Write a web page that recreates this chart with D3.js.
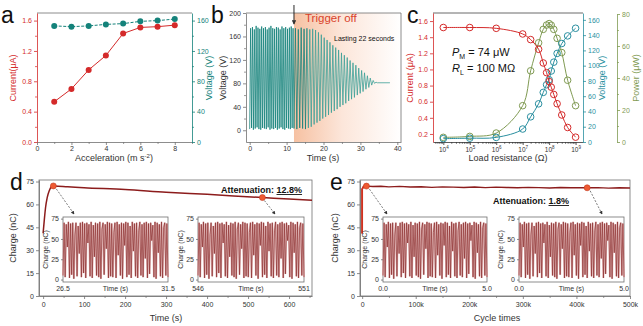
<!DOCTYPE html>
<html>
<head>
<meta charset="utf-8">
<script src="https://cdn.jsdelivr.net/npm/d3@7"></script>
<style>
  body { margin: 0; background: #fff; }
  svg { display: block; }
</style>
</head>
<body>
<script>
// ---- data ----
// (a) output vs. acceleration
const accel = [1, 2, 3, 4, 5, 6, 7, 8];
const accCurrent = [0.53, 0.70, 0.95, 1.14, 1.43, 1.51, 1.52, 1.54];
const accVoltage = [153, 152, 153, 155, 156, 159, 160, 162];

// (b) voltage after trigger off: per-cycle peaks and troughs
const bHighsOn = [174, 176, 172, 178, 175, 173, 177, 174, 176, 172, 175, 178, 174, 173, 176, 175, 172, 177, 174, 176, 173, 175, 177, 174];
const bLowsOn = [2, 4, 1, 3, 5, 2, 1, 4, 3, 2, 5, 1, 3, 2, 4, 1, 3, 5, 2, 1, 4, 3, 2, 4];
const bHighsOff = [174, 172, 175, 173, 174, 172, 173, 171, 167, 163, 158, 154, 150, 145, 141, 137, 132, 128, 124, 119, 115, 111, 106, 102, 98, 93, 89, 85, 82];
const bLowsOff = [3, 2, 4, 3, 2, 4, 6, 10, 13, 16, 20, 23, 26, 30, 33, 36, 40, 43, 46, 50, 53, 56, 60, 63, 66, 70, 73, 77, 80];
const bRest = 81;

// (c) load resistance sweep
const loadR = [1e4, 1e5, 1e6, 1e7, 2e7, 4e7, 6e7, 8e7, 1e8, 1.2e8, 1.5e8, 2e8, 3e8, 5e8, 1e9];
const loadCurrent = [1.52, 1.52, 1.51, 1.44, 1.37, 1.25, 1.08, 0.96, 0.85, 0.78, 0.69, 0.575, 0.435, 0.28, 0.16];
const loadVoltage = [4.4, 5, 6, 17, 33, 50, 65, 75, 81.5, 93, 104.6, 116, 129, 139, 149];
const loadPower = [2.9, 3.5, 5.6, 22.7, 44.5, 62, 70.4, 73.1, 74, 73, 70.4, 64.8, 55.9, 38.6, 22.7];

// (d) charge over time
const dTime = [0, 3, 6, 10, 15, 20, 25, 60, 100, 200, 300, 400, 535, 600, 656];
const dCharge = [41, 50, 58, 64.5, 69, 71.5, 72.1, 71.6, 71, 69.8, 68, 66.6, 64.5, 63.6, 62.7];
const dMarks = [[25, 72.1], [535, 64.5]];

// (e) charge over cycles
const eCycles = [0, 0, 3000, 8000, 20000, 35000, 50000, 70000, 90000, 110000, 130000, 150000, 170000, 190000, 210000, 230000, 250000, 270000, 290000, 310000, 330000, 350000, 370000, 390000, 420000, 440000, 460000, 480000, 500000];
const eCharge = [41, 70, 72, 72, 71.7, 71.9, 71.5, 71.8, 71.4, 71.6, 71.2, 71.5, 71.3, 71.1, 71.4, 71.0, 71.3, 71.1, 70.9, 71.2, 71.0, 70.8, 71.1, 70.9, 70.9, 71.0, 70.7, 70.9, 70.8];
const eMarks = [[8000, 72], [420000, 70.9]];

// shared inset trace (charge within a 5 s window)
const insetWave = [5, 70, 3, 68, 40, 71, 2, 69, 6, 70, 1, 55, 70, 4, 66, 32, 70, 3, 71, 8, 69, 2, 70, 45, 68, 4, 71, 2, 67, 28, 70, 5, 69, 3, 71, 1, 62, 70, 6, 68, 38, 71, 2, 70, 4, 69, 3, 58, 70, 2, 71, 30, 68, 5, 70, 1, 69, 42, 71, 3, 70, 6, 66, 2, 71, 35, 69, 4, 70, 2, 60, 71, 5, 68, 3, 70, 26, 71, 2, 69, 7, 70, 48, 67, 3, 71, 1, 70, 33, 68, 4, 71, 2, 64, 70, 5, 69, 3];

// ---- styling ----
const FONT = "Liberation Sans, Arial, sans-serif";
const RED = "#d42a2a";
const TEAL = "#14827a";
const TEAL_LIGHT = "#3c9f97";
const CTEAL = "#2a8fa0";
const OLIVE = "#7f9a52";
const GREY = "#707070";
const TXT = "#333";

const svg = d3.select("body").append("svg")
    .attr("width", 643)
    .attr("height", 326);

const defs = svg.append("defs");
defs.append("marker")
    .attr("id", "arr")
    .attr("viewBox", "0 0 6 6")
    .attr("refX", 5).attr("refY", 3)
    .attr("markerWidth", 5).attr("markerHeight", 5)
    .attr("orient", "auto")
  .append("path")
    .attr("d", "M0,0L6,3L0,6Z")
    .attr("fill", "#333");

const grad = defs.append("linearGradient").attr("id", "fade");
grad.append("stop").attr("offset", 0).attr("stop-color", "#f6c1a2");
grad.append("stop").attr("offset", 0.45).attr("stop-color", "#fce6da");
grad.append("stop").attr("offset", 1).attr("stop-color", "#ffffff");

// helper: draw an axis and colour it
function axis(gen, tx, ty, color, textColor, size) {
    const g = svg.append("g")
        .attr("transform", `translate(${tx},${ty})`)
        .call(gen);
    g.selectAll("path, line").attr("stroke", color).attr("stroke-width", 0.8);
    g.selectAll("text")
        .attr("fill", textColor)
        .attr("font-size", size || 7)
        .attr("font-family", FONT);
    return g;
}

function minor(gen, tx, ty, color) {
    const g = svg.append("g")
        .attr("transform", `translate(${tx},${ty})`)
        .call(gen.tickFormat("").tickSizeOuter(0));
    g.select(".domain").remove();
    g.selectAll("line").attr("stroke", color).attr("stroke-width", 0.7);
    return g;
}

function label(x, y, str, opts) {
    opts = opts || {};
    const t = svg.append("text")
        .attr("x", x).attr("y", y)
        .attr("font-family", FONT)
        .attr("font-size", opts.size || 9)
        .attr("fill", opts.color || TXT)
        .attr("text-anchor", opts.anchor || "middle")
        .text(str);
    if (opts.rotate) t.attr("transform", `rotate(-90,${x},${y})`);
    if (opts.weight) t.attr("font-weight", opts.weight);
    return t;
}

function hline(x0, x1, y, color) {
    svg.append("line")
        .attr("x1", x0).attr("x2", x1).attr("y1", y).attr("y2", y)
        .attr("stroke", color).attr("stroke-width", 0.8);
}

function dashedArrow(x1, y1, x2, y2) {
    svg.append("line")
        .attr("x1", x1).attr("y1", y1).attr("x2", x2).attr("y2", y2)
        .attr("stroke", "#444")
        .attr("stroke-width", 0.7)
        .attr("stroke-dasharray", "2,1.5")
        .attr("marker-end", "url(#arr)");
}

// panel letters
[["a", 1, 23], ["b", 211, 23], ["c", 407, 23], ["d", 10, 190], ["e", 330, 190]].forEach(d => {
    label(d[1], d[2], d[0], { size: 23, anchor: "start", color: "#111" });
});

// ===================== (a) =====================
{
    const x = d3.scaleLinear().domain([0, 9]).range([37, 192]);
    const yI = d3.scaleLinear().domain([0, 1.7]).range([142, 13]);
    const yV = d3.scaleLinear().domain([0, 170]).range([142, 13]);

    hline(37, 192, 13, GREY);
    axis(d3.axisBottom(x).tickValues([0, 2, 4, 6, 8]).tickSize(3).tickSizeOuter(0).tickPadding(1.5), 0, 142, GREY, TXT);
    minor(d3.axisBottom(x).tickValues([1, 3, 5, 7, 9]).tickSize(2), 0, 142, GREY);
    axis(d3.axisLeft(yI).tickValues([0, 0.4, 0.8, 1.2, 1.6]).tickFormat(d3.format(".1f")).tickSize(3).tickSizeOuter(0).tickPadding(2), 37, 0, RED, RED);
    minor(d3.axisLeft(yI).tickValues([0.2, 0.6, 1.0, 1.4]).tickSize(2), 37, 0, RED);
    axis(d3.axisRight(yV).tickValues([0, 40, 80, 120, 160]).tickSize(3).tickSizeOuter(0).tickPadding(2), 192, 0, TEAL, TEAL);
    minor(d3.axisRight(yV).tickValues([20, 60, 100, 140]).tickSize(2), 192, 0, TEAL);

    const iLine = d3.line().x((d, i) => x(accel[i])).y(d => yI(d));
    const vLine = d3.line().x((d, i) => x(accel[i])).y(d => yV(d));

    svg.append("path").attr("d", iLine(accCurrent))
        .attr("fill", "none").attr("stroke", RED).attr("stroke-width", 1);
    svg.append("path").attr("d", vLine(accVoltage))
        .attr("fill", "none").attr("stroke", TEAL).attr("stroke-width", 1)
        .attr("stroke-dasharray", "3,1.5");

    svg.append("g").selectAll("circle").data(accCurrent).join("circle")
        .attr("cx", (d, i) => x(accel[i])).attr("cy", d => yI(d))
        .attr("r", 3).attr("fill", RED);
    svg.append("g").selectAll("circle").data(accVoltage).join("circle")
        .attr("cx", (d, i) => x(accel[i])).attr("cy", d => yV(d))
        .attr("r", 3).attr("fill", TEAL);

    label(16, 78, "Current(μA)", { rotate: true, color: RED });
    label(212, 78, "Voltage (V)", { rotate: true, color: TEAL });
    const t = label(114, 161, "Acceleration (m s");
    t.append("tspan").attr("dy", -3.5).attr("font-size", 6).text("-2");
    t.append("tspan").attr("dy", 3.5).text(")");
}

// ===================== (b) =====================
{
    const x = d3.scaleLinear().domain([-1, 41]).range([246, 401]);
    const y = d3.scaleLinear().domain([-20, 200]).range([142, 13]);

    // shaded region after the trigger is released
    svg.append("rect")
        .attr("x", x(12)).attr("y", 13)
        .attr("width", 401 - x(12)).attr("height", 129)
        .attr("fill", "url(#fade)");

    // build the zigzag: dense cycles while triggered, slower decaying cycles after
    const ptsOn = [];
    const onPeriod = 12 / bHighsOn.length;
    bHighsOn.forEach((h, i) => {
        ptsOn.push([i * onPeriod, bLowsOn[i]]);
        ptsOn.push([i * onPeriod + onPeriod / 2, h]);
    });
    const ptsOff = [];
    const offPeriod = 0.78;
    bHighsOff.forEach((h, i) => {
        ptsOff.push([12 + i * offPeriod, bLowsOff[i]]);
        ptsOff.push([12 + i * offPeriod + offPeriod / 2, h]);
    });
    const tEnd = 12 + bHighsOff.length * offPeriod;
    ptsOff.push([tEnd, bRest]);
    ptsOff.push([38, bRest]);

    // free ringing drawn first in a lighter tone, driven part on top
    const wave = d3.line().x(d => x(d[0])).y(d => y(d[1]));
    const split = 10;
    svg.append("path")
        .attr("d", wave(ptsOff.slice(split - 1)))
        .attr("fill", "none")
        .attr("stroke", TEAL_LIGHT)
        .attr("stroke-width", 0.8);
    svg.append("path")
        .attr("d", wave(ptsOn.concat(ptsOff.slice(0, split))))
        .attr("fill", "none")
        .attr("stroke", TEAL)
        .attr("stroke-width", 0.8);

    hline(246, 401, 13, GREY);
    svg.append("line").attr("x1", 401).attr("x2", 401).attr("y1", 13).attr("y2", 142)
        .attr("stroke", GREY).attr("stroke-width", 0.8);
    axis(d3.axisBottom(x).tickValues([0, 10, 20, 30, 40]).tickSize(3).tickSizeOuter(0).tickPadding(1.5), 0, 142, GREY, TXT);
    minor(d3.axisBottom(x).tickValues([5, 15, 25, 35]).tickSize(2), 0, 142, GREY);
    axis(d3.axisLeft(y).tickValues([0, 40, 80, 120, 160, 200]).tickSize(3).tickSizeOuter(0).tickPadding(2), 246, 0, GREY, TXT);
    minor(d3.axisLeft(y).tickValues([20, 60, 100, 140, 180]).tickSize(2), 246, 0, GREY);

    // trigger-off marker
    svg.append("line")
        .attr("x1", x(12)).attr("x2", x(12)).attr("y1", 5).attr("y2", 24)
        .attr("stroke", "#111").attr("stroke-width", 0.9)
        .attr("marker-end", "url(#arr)");
    label(305, 22, "Trigger off", { size: 11.5, anchor: "start", color: "#d9432b" });
    label(334, 41, "Lasting 22 seconds", { size: 7, anchor: "start", color: "#111" });

    label(226, 78, "Voltage (V)", { rotate: true });
    label(323, 161, "Time (s)");
}

// ===================== (c) =====================
{
    const x = d3.scaleLog().domain([Math.pow(10, 3.61), Math.pow(10, 9.28)]).range([433, 583]);
    const yI = d3.scaleLinear().domain([0.1, 1.7]).range([142, 13]);
    const yV = d3.scaleLinear().domain([0, 169]).range([142, 13]);
    const yP = d3.scaleLinear().domain([0, 80]).range([142, 14]);

    hline(433, 583, 13, "#444");

    const xAx = axis(d3.axisBottom(x).tickValues([1e4, 1e5, 1e6, 1e7, 1e8, 1e9]).tickSize(3).tickSizeOuter(0).tickPadding(2), 0, 142, "#333", TXT, 6.5);
    xAx.selectAll(".tick text").each(function (d) {
        const t = d3.select(this);
        t.text("10");
        t.append("tspan").attr("dy", -2.5).attr("font-size", 4.5).text(Math.round(Math.log10(d)));
    });
    const minors = [];
    for (let e = 3; e <= 9; e++) {
        for (let m = 2; m <= 9; m++) {
            const v = m * Math.pow(10, e);
            if (v > x.domain()[0] && v < x.domain()[1]) minors.push(v);
        }
    }
    minor(d3.axisBottom(x).tickValues(minors).tickSize(1.8), 0, 142, "#333");

    axis(d3.axisLeft(yI).tickValues([0.2, 0.4, 0.6, 0.8, 1.0, 1.2, 1.4, 1.6]).tickFormat(d3.format(".1f")).tickSize(3).tickSizeOuter(0).tickPadding(2), 433, 0, RED, RED);
    axis(d3.axisRight(yV).tickValues([0, 20, 40, 60, 80, 100, 120, 140, 160]).tickSize(3).tickSizeOuter(0).tickPadding(2), 583, 0, CTEAL, CTEAL);
    axis(d3.axisRight(yP).tickValues([0, 20, 40, 60, 80]).tickSize(3).tickSizeOuter(0).tickPadding(2), 617, 0, OLIVE, OLIVE);
    minor(d3.axisRight(yP).tickValues([10, 30, 50, 70]).tickSize(2), 617, 0, OLIVE);

    const series = [
        { vals: loadPower, y: yP, color: OLIVE },
        { vals: loadVoltage, y: yV, color: CTEAL },
        { vals: loadCurrent, y: yI, color: RED }
    ];
    series.forEach(s => {
        const line = d3.line()
            .x((d, i) => x(loadR[i]))
            .y(d => s.y(d))
            .curve(d3.curveCatmullRom.alpha(0.5));
        svg.append("path").attr("d", line(s.vals))
            .attr("fill", "none").attr("stroke", s.color).attr("stroke-width", 1);
        svg.append("g").selectAll("circle").data(s.vals).join("circle")
            .attr("cx", (d, i) => x(loadR[i])).attr("cy", d => s.y(d))
            .attr("r", 3.3)
            .attr("fill", "none")
            .attr("stroke", s.color)
            .attr("stroke-width", 1);
    });

    const pm = label(452, 56, "", { size: 11, anchor: "start", color: "#111" });
    pm.append("tspan").attr("font-style", "italic").text("P");
    pm.append("tspan").attr("dy", 3).attr("font-size", 7).text("M");
    pm.append("tspan").attr("dy", -3).text(" = 74 μW");
    const rl = label(452, 72, "", { size: 11, anchor: "start", color: "#111" });
    rl.append("tspan").attr("font-style", "italic").text("R");
    rl.append("tspan").attr("dy", 3).attr("font-size", 7).text("L");
    rl.append("tspan").attr("dy", -3).text(" = 100 MΩ");

    label(413, 78, "Current (μA)", { rotate: true, color: RED });
    label(605, 78, "Voltage (V)", { rotate: true, color: CTEAL });
    label(639, 78, "Power (μW)", { rotate: true, color: OLIVE });
    label(508, 161, "Load resistance (Ω)");
}

// ---- inset drawer for (d) and (e) ----
function inset(x0, x1, t0, t1, fmt, titleX) {
    const y0 = 217, y1 = 282;
    const x = d3.scaleLinear().domain([t0, t1]).range([x0, x1]);
    const y = d3.scaleLinear().domain([-3, 77]).range([y1, y0]);
    svg.append("rect")
        .attr("x", x0).attr("y", y0).attr("width", x1 - x0).attr("height", y1 - y0)
        .attr("fill", "#fff").attr("stroke", GREY).attr("stroke-width", 0.8);

    const step = (t1 - t0) / (insetWave.length - 1);
    const line = d3.line().x((d, i) => x(t0 + i * step)).y(d => y(d));
    svg.append("path").attr("d", line(insetWave))
        .attr("fill", "none").attr("stroke", "#e6bdbd").attr("stroke-width", 2);
    svg.append("path").attr("d", line(insetWave))
        .attr("fill", "none").attr("stroke", "#8c3030").attr("stroke-width", 0.7);

    axis(d3.axisLeft(y).tickValues([0, 25, 50, 75]).tickSize(2).tickSizeOuter(0).tickPadding(2), x0, 0, GREY, TXT, 7)
        .select(".domain").remove();
    const b = svg.append("g");
    b.append("text").attr("x", x0).attr("y", y1 + 9).text(fmt(t0));
    b.append("text").attr("x", x1).attr("y", y1 + 9).text(fmt(t1));
    b.append("text").attr("x", (x0 + x1) / 2).attr("y", y1 + 9).text("Time (s)");
    b.selectAll("text")
        .attr("font-family", FONT).attr("font-size", 7)
        .attr("fill", TXT).attr("text-anchor", "middle");
    label(titleX, (y0 + y1) / 2, "Charge (nC)", { rotate: true, size: 7 });
}

function markDot(cx, cy) {
    svg.append("circle").attr("cx", cx).attr("cy", cy).attr("r", 3)
        .attr("fill", "#ee5a32").attr("stroke", "#c23a22").attr("stroke-width", 0.6);
}

function attenuation(x, y, pct) {
    const t = label(x, y, "Attenuation: ", { size: 9, anchor: "start", weight: "bold", color: "#111" });
    t.append("tspan").attr("text-decoration", "underline").text(pct);
}

// ===================== (d) =====================
{
    const x = d3.scaleLinear().domain([-10, 656]).range([39, 312]);
    const y = d3.scaleLinear().domain([0, 76]).range([296, 180]);

    svg.append("rect").attr("x", 39).attr("y", 180).attr("width", 273).attr("height", 116)
        .attr("fill", "none").attr("stroke", GREY).attr("stroke-width", 0.8);
    axis(d3.axisBottom(x).tickValues([0, 100, 200, 300, 400, 500, 600]).tickSize(3).tickSizeOuter(0).tickPadding(3), 0, 296, GREY, TXT);
    minor(d3.axisBottom(x).tickValues([50, 150, 250, 350, 450, 550, 650]).tickSize(2), 0, 296, GREY);
    axis(d3.axisLeft(y).tickValues([0, 15, 30, 45, 60, 75]).tickSize(3).tickSizeOuter(0).tickPadding(2), 39, 0, GREY, TXT);

    svg.append("path")
        .attr("d", d3.line().x((d, i) => x(dTime[i])).y(d => y(d)).curve(d3.curveMonotoneX)(dCharge))
        .attr("fill", "none").attr("stroke", "#8c1c1c").attr("stroke-width", 1.5);
    dMarks.forEach(m => markDot(x(m[0]), y(m[1])));

    inset(63, 168, 26.5, 31.5, d => d3.format(".1f")(d), 48);
    inset(198, 304, 546, 551, d => String(d), 183);

    dashedArrow(x(dMarks[0][0]) + 3, y(dMarks[0][1]) + 3, 74, 214);
    dashedArrow(x(dMarks[1][0]) + 2, y(dMarks[1][1]) + 3, 275, 214);
    attenuation(221, 193, "12.8%");

    label(16, 238, "Charge (nC)", { rotate: true });
    label(166, 321, "Time (s)");
}

// ===================== (e) =====================
{
    const x = d3.scaleLinear().domain([-4000, 500000]).range([360, 630]);
    const y = d3.scaleLinear().domain([0, 76]).range([296, 180]);

    svg.append("rect").attr("x", 360).attr("y", 180).attr("width", 270).attr("height", 116)
        .attr("fill", "none").attr("stroke", GREY).attr("stroke-width", 0.8);
    axis(d3.axisBottom(x).tickValues([0, 100000, 200000, 300000, 400000, 500000])
        .tickFormat(d => d === 0 ? "0" : (d / 1000) + "k")
        .tickSize(3).tickSizeOuter(0).tickPadding(3), 0, 296, GREY, TXT);
    minor(d3.axisBottom(x).tickValues([50000, 150000, 250000, 350000, 450000]).tickSize(2), 0, 296, GREY);
    axis(d3.axisLeft(y).tickValues([0, 15, 30, 45, 60, 75]).tickSize(3).tickSizeOuter(0).tickPadding(2), 360, 0, GREY, TXT);

    svg.append("path")
        .attr("d", d3.line().x((d, i) => x(eCycles[i])).y(d => y(d))(eCharge))
        .attr("fill", "none").attr("stroke", "#8c1c1c").attr("stroke-width", 1.4);
    svg.append("path")
        .attr("d", d3.line().x((d, i) => x(eCycles[i])).y(d => y(d))(eCharge.slice(0, 3)))
        .attr("fill", "none").attr("stroke", "#d2321f").attr("stroke-width", 1.8);
    eMarks.forEach(m => markDot(x(m[0]), y(m[1])));

    inset(383, 487, 0, 5, d => d3.format(".1f")(d), 367);
    inset(519, 624, 0, 5, d => d3.format(".1f")(d), 503);

    dashedArrow(x(eMarks[0][0]) + 3, y(eMarks[0][1]) + 3, 387, 214);
    dashedArrow(x(eMarks[1][0]) + 3, y(eMarks[1][1]) + 3, 602, 214);
    attenuation(493, 204, "1.8%");

    label(338, 238, "Charge (nC)", { rotate: true });
    label(497, 321, "Cycle times");
}
</script>
</body>
</html>
